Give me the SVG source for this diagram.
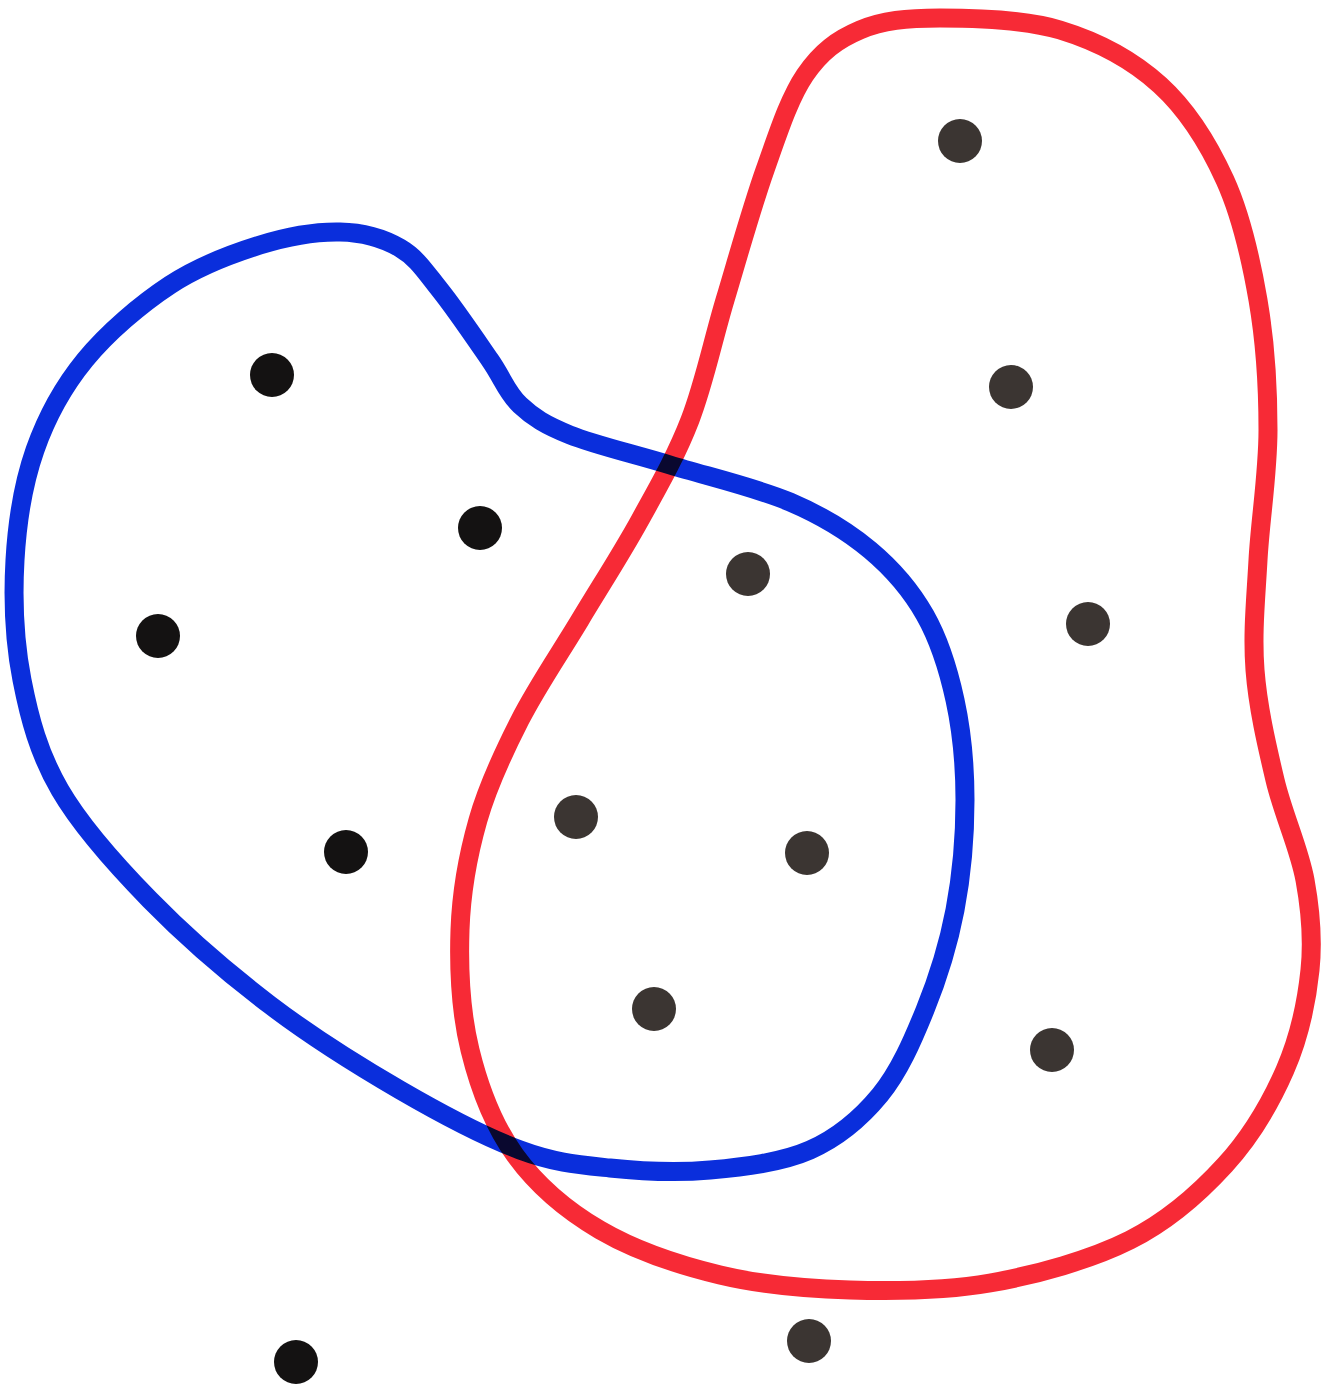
<svg xmlns="http://www.w3.org/2000/svg" width="1340" height="1388" viewBox="0 0 1340 1388">
<style>
.set{fill:none;stroke-width:19;stroke-linejoin:round;mix-blend-mode:multiply}
.blue{stroke:#0a2edc}
.red{stroke:#f72a36}
.dot{fill:#141212}
.dot2{fill:#3b3532}
</style>
<rect width="1340" height="1388" fill="#ffffff"/>
<g id="connectors">
<path id="blue-set" class="set blue" d="M340,232 C363.3,232.5 383.3,238.3 400,248 C416.7,257.7 425,271.3 440,290 C455,308.7 476.7,340.8 490,360 C503.3,379.2 506.7,392.5 520,405 C533.3,417.5 545,425 570,435 C595,445 633.3,453.8 670,465 C706.7,476.2 756.7,487.8 790,502 C823.3,516.2 847.5,531.2 870,550 C892.5,568.8 910.8,590 925,615 C939.2,640 948.3,669.2 955,700 C961.7,730.8 965,765 965,800 C965,835 961.7,875 955,910 C948.3,945 937.5,979.2 925,1010 C912.5,1040.8 899.2,1071.7 880,1095 C860.8,1118.3 838.3,1137.5 810,1150 C781.7,1162.5 743.3,1167 710,1170 C676.7,1173 641.7,1171.3 610,1168 C578.3,1164.7 555,1163 520,1150 C485,1137 441.7,1114.2 400,1090 C358.3,1065.8 311.7,1036.7 270,1005 C228.3,973.3 185,935.8 150,900 C115,864.2 81.3,826.7 60,790 C38.7,753.3 29.5,718.3 22,680 C14.5,641.7 12.8,598.3 15,560 C17.2,521.7 23.3,483.3 35,450 C46.7,416.7 62.5,387.5 85,360 C107.5,332.5 140.8,304.2 170,285 C199.2,265.8 231.7,253.8 260,245 C288.3,236.2 316.7,231.5 340,232 Z"/>
<path id="red-set" class="set red" d="M940,18 C973.3,18 1023.3,18.8 1060,30 C1096.7,41.2 1132.5,60 1160,85 C1187.5,110 1208.7,144.2 1225,180 C1241.3,215.8 1250.8,258.3 1258,300 C1265.2,341.7 1268,386.7 1268,430 C1268,473.3 1260.2,520 1258,560 C1255.8,600 1252.2,633.3 1255,670 C1257.8,706.7 1266.7,745 1275,780 C1283.3,815 1299.2,848.3 1305,880 C1310.8,911.7 1313.3,938.3 1310,970 C1306.7,1001.7 1299.2,1037.5 1285,1070 C1270.8,1102.5 1250.8,1136.7 1225,1165 C1199.2,1193.3 1169.2,1220.3 1130,1240 C1090.8,1259.7 1036.7,1274.7 990,1283 C943.3,1291.3 895,1291.3 850,1290 C805,1288.7 761.7,1285 720,1275 C678.3,1265 634.2,1250 600,1230 C565.8,1210 536.7,1185 515,1155 C493.3,1125 479.2,1087.5 470,1050 C460.8,1012.5 458.7,968.3 460,930 C461.3,891.7 468,855 478,820 C488,785 503,753.3 520,720 C537,686.7 560,653.3 580,620 C600,586.7 621.7,553.3 640,520 C658.3,486.7 675.8,456.7 690,420 C704.2,383.3 712.5,341.7 725,300 C737.5,258.3 751.7,207.5 765,170 C778.3,132.5 789.2,98.3 805,75 C820.8,51.7 837.5,39.5 860,30 C882.5,20.5 906.7,18 940,18 Z"/>
</g>
<g id="p1"><circle class="dot" cx="272" cy="375" r="22"/></g>
<g id="p2"><circle class="dot" cx="480" cy="528" r="22"/></g>
<g id="p3"><circle class="dot" cx="158" cy="636" r="22"/></g>
<g id="p4"><circle class="dot" cx="346" cy="852" r="22"/></g>
<g id="p5"><circle class="dot2" cx="748" cy="574" r="22"/></g>
<g id="p6"><circle class="dot2" cx="576" cy="817" r="22"/></g>
<g id="p7"><circle class="dot2" cx="807" cy="853" r="22"/></g>
<g id="p8"><circle class="dot2" cx="654" cy="1009" r="22"/></g>
<g id="p9"><circle class="dot2" cx="960" cy="141" r="22"/></g>
<g id="p10"><circle class="dot2" cx="1011" cy="387" r="22"/></g>
<g id="p11"><circle class="dot2" cx="1088" cy="624" r="22"/></g>
<g id="p12"><circle class="dot2" cx="1052" cy="1050" r="22"/></g>
<g id="p13"><circle class="dot" cx="296" cy="1362" r="22"/></g>
<g id="p14"><circle class="dot2" cx="809" cy="1341" r="22"/></g>
</svg>
